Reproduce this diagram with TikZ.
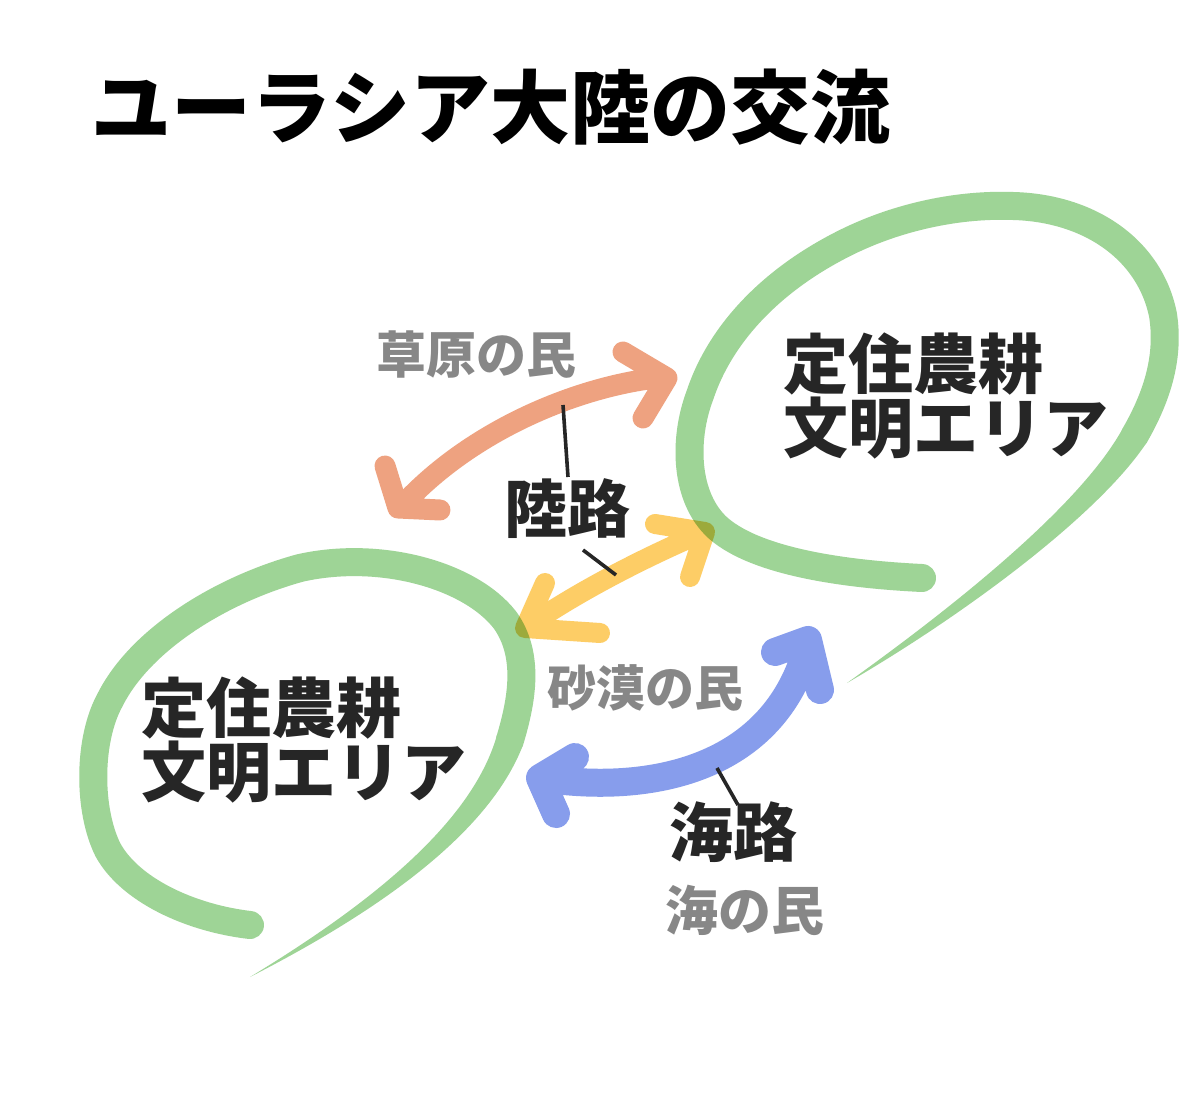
\documentclass[tikz,border=0pt]{standalone}
\usepackage{fontspec}
\setmainfont{Noto Sans CJK JP}
\definecolor{brushgreen}{RGB}{158,212,150}
\definecolor{brushorange}{RGB}{238,162,128}
\definecolor{brushyellow}{RGB}{253,205,102}
\definecolor{brushblue}{RGB}{135,157,236}
\definecolor{inkdark}{RGB}{38,38,38}
\definecolor{inkgray}{RGB}{135,135,135}
\begin{document}
\begin{tikzpicture}[x=0.5pt,y=-0.5pt,
  greenloop/.style={draw=brushgreen,line width=14pt,line cap=round,line join=round},
  greentail/.style={fill=brushgreen,draw=none},
  landstroke/.style={draw=brushorange,line width=10.5pt,line cap=round,line join=round},
  deserts/.style={draw=brushyellow,line width=10pt,line cap=round,line join=round},
  seastroke/.style={draw=brushblue,line width=14pt,line cap=round,line join=round},
  leader/.style={draw=inkdark,line width=1.8pt},
  areatext/.style={text=inkdark,font=\bfseries\fontsize{32.5}{32}\selectfont,align=left,inner sep=0pt},
  routetext/.style={text=inkdark,font=\bfseries\fontsize{32}{36}\selectfont,inner sep=0pt},
  peopletext/.style={text=inkgray,font=\bfseries\fontsize{25}{30}\selectfont,inner sep=0pt}
]
\fill[white] (0,0) rectangle (1200,1101);
\useasboundingbox (0,0) rectangle (1200,1101);

% title
\node[text=black,font=\bfseries\fontsize{40}{48}\selectfont,inner sep=0pt] (title) at (491,107) {ユーラシア大陸の交流};

% top-right green loop
\draw[greenloop] (922,578) .. controls (860,575) and (760,565) .. (718,528)
  .. controls (685,498) and (683,440) .. (700,395)
  .. controls (720,335) and (770,280) .. (847,242)
  .. controls (900,216) and (960,204) .. (1013,206)
  .. controls (1090,208) and (1150,250) .. (1163,315)
  .. controls (1170,360) and (1155,400) .. (1135,435);
\fill[greentail] (1147,442) .. controls (1099,515) and (964,615) .. (847,683)
  .. controls (956,605) and (1081,505) .. (1123,428) -- cycle;

% bottom-left green loop
\draw[greenloop] (250,925) .. controls (190,918) and (130,890) .. (108,850)
  .. controls (88,810) and (88,740) .. (110,700)
  .. controls (140,640) and (220,590) .. (300,568)
  .. controls (380,550) and (470,575) .. (505,620)
  .. controls (530,655) and (522,700) .. (510,740);
\fill[greentail] (523,745) .. controls (488,836) and (373,914) .. (250,977)
  .. controls (367,906) and (472,824) .. (497,735) -- cycle;

\begin{scope}[blend mode=multiply]
% land route (orange)
\draw[landstroke] (400,508) .. controls (470,430) and (580,385) .. (665,377)
  (623,352) -- (667,378) -- (643,418)
  (385,466) -- (398,508) -- (440,510);
% desert route (yellow)
\draw[deserts] (527,627) .. controls (580,590) and (650,555) .. (702,533)
  (655,524) -- (705,532) -- (690,577)
  (545,583) -- (525,628) -- (600,633);
% sea route (blue)
\draw[seastroke] (540,778) .. controls (650,795) and (775,770) .. (808,645)
  (775,652) -- (808,640) -- (820,690)
  (575,757) -- (540,778) -- (556,814);
\end{scope}

% area labels
\node[areatext,anchor=west] (areaNE) at (783,396) {定住農耕\\文明エリア};
\node[areatext,anchor=west] (areaSW) at (141,740) {定住農耕\\文明エリア};

% route and people labels
\node[peopletext] (steppe) at (476,355) {草原の民};
\node[routetext,font=\bfseries\fontsize{31.5}{36}\selectfont] (landroute) at (567,509) {陸路};
\node[peopletext,font=\bfseries\fontsize{24.5}{30}\selectfont] (desert) at (645,688) {砂漠の民};
\node[routetext] (searoute) at (733,832) {海路};
\node[peopletext,font=\bfseries\fontsize{26.5}{30}\selectfont] (seafolk) at (745,910) {海の民};

% leader lines
\coordinate (landUpA) at (568,477);
\coordinate (landUpB) at (563,405);
\coordinate (landDnA) at (583,550);
\coordinate (landDnB) at (616,575);
\coordinate (seaA) at (738,805);
\coordinate (seaB) at (717,768);
\draw[leader] (landUpA) -- (landUpB);
\draw[leader] (landDnA) -- (landDnB);
\draw[leader] (seaA) -- (seaB);
\end{tikzpicture}
\end{document}
